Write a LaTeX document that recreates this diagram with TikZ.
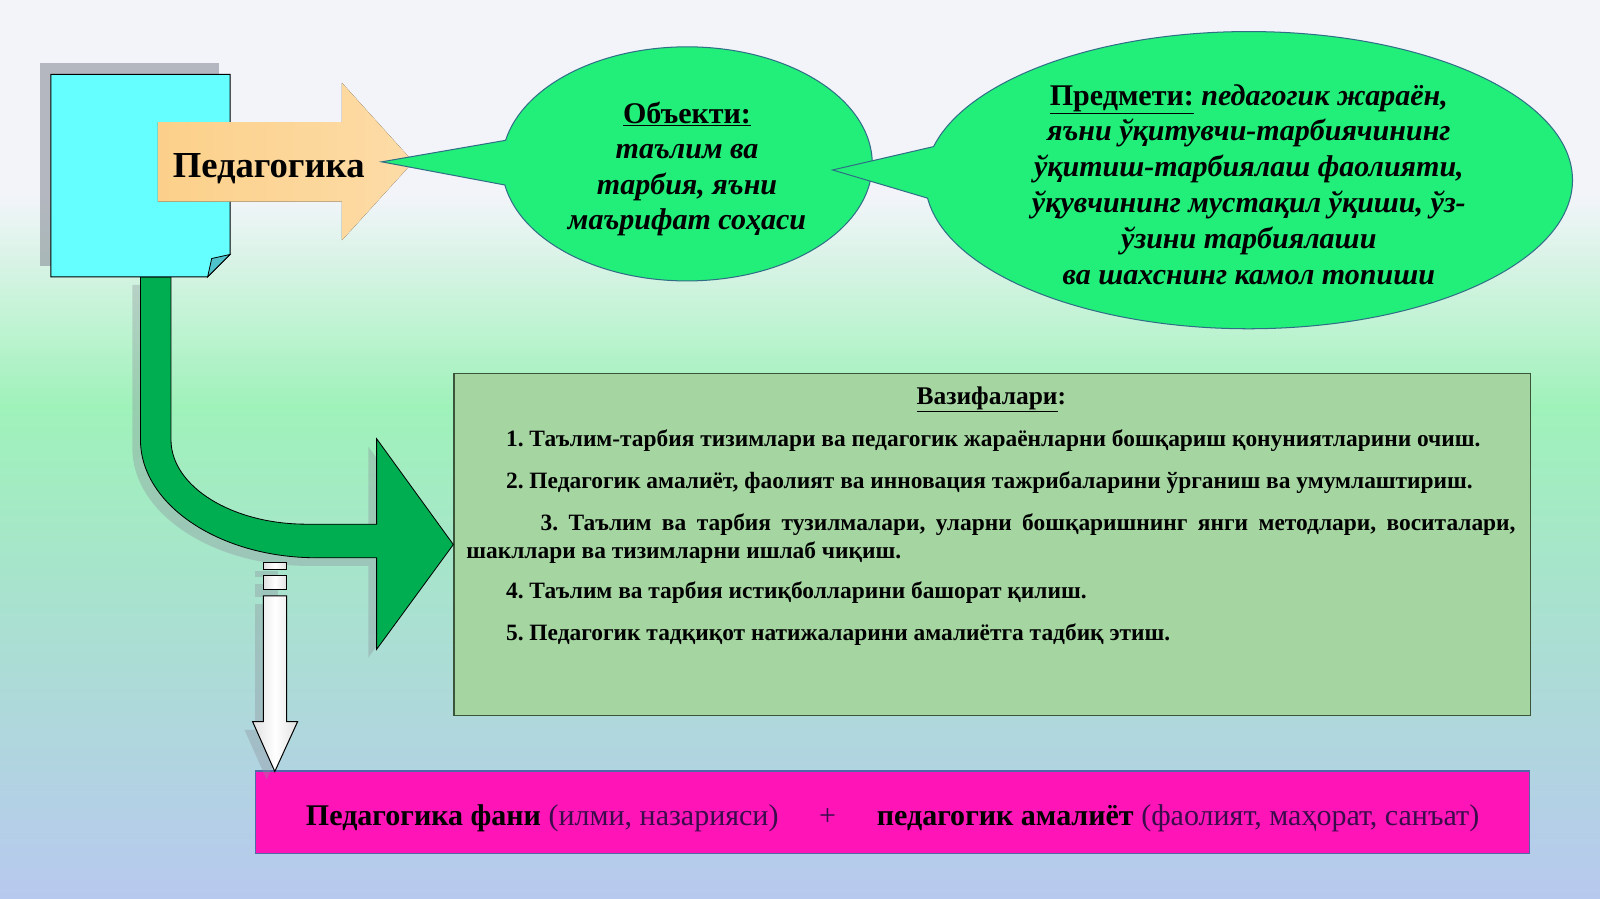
\documentclass[tikz,border=0pt]{standalone}
\usepackage{fontspec}
\setmainfont{Liberation Serif}
\usetikzlibrary{shapes.geometric}
\usetikzlibrary{shapes.callouts}
\usetikzlibrary{positioning}
\definecolor{skytop}{HTML}{F3F4FA}
\definecolor{skymint}{HTML}{9FF2BA}
\definecolor{skymid}{HTML}{A5D6D4}
\definecolor{skyblue}{HTML}{B8C9EF}
\definecolor{docblue}{HTML}{66FFFF}
\definecolor{foldblue}{HTML}{4FC3CC}
\definecolor{arroworange}{HTML}{FCD08A}
\definecolor{bubblegreen}{HTML}{22EE7A}
\definecolor{bubbleline}{HTML}{2F6E86}
\definecolor{arrowgreen}{HTML}{00AE52}
\definecolor{taskgreen}{HTML}{A5D6A2}
\definecolor{taskline}{HTML}{3B553B}
\definecolor{pinkbar}{HTML}{FF14B8}
\definecolor{pinkline}{HTML}{5068A8}
\definecolor{pinktext}{HTML}{3A0C4C}
\definecolor{shadowgray}{HTML}{8A8F99}
\tikzset{bubble/.style={ellipse callout,fill=bubblegreen,draw=bubbleline,line width=1pt,
           inner sep=0pt,callout pointer arc=22,align=center,
           font={\fontsize{29.5}{35}\selectfont\bfseries}},
         taskitem/.style={anchor=base west,inner sep=0pt,
           font={\fontsize{23}{28}\selectfont\bfseries\frenchspacing}},
         blockshadow/.style={fill=shadowgray,opacity=0.35,
           transform canvas={shift={(-8pt,-8pt)}}},
         greenarrow/.style={fill=arrowgreen,draw=black,line width=0.8pt},
         whitearrow/.style={left color=black!12,right color=black!12,middle color=white,
           draw=black,line width=1pt},
         }

\begin{document}
\begin{tikzpicture}[x=1pt,y=-1pt]
\useasboundingbox (0,0) rectangle (1572,883);
\fill[skytop] (0,0) rectangle (1572,190);
\shade[top color=skytop,bottom color=skymint] (0,190) rectangle (1572,400);
\shade[top color=skymint,middle color=skymid,bottom color=skyblue] (0,400) rectangle (1572,883);

\node[draw=taskline,fill=taskgreen,line width=1.2pt,minimum width=1058pt,
      minimum height=336pt,inner sep=0pt] (tasks) at (975,535) {};

% green arrow from the sheet to the tasks
\path[blockshadow] (138,272) -- (138,432) .. controls (138,496) and (216,548) .. (311,548)
  -- (370,548) -- (370,638) -- (tasks.west) -- (370,431) -- (370,515) -- (301,515)
  .. controls (228,515) and (168,478) .. (168,432) -- (168,272) -- cycle;
\path[greenarrow] (138,272) -- (138,432) .. controls (138,496) and (216,548) .. (311,548)
  -- (370,548) -- (370,638) -- (tasks.west) -- (370,431) -- (370,515) -- (301,515)
  .. controls (228,515) and (168,478) .. (168,432) -- (168,272) -- cycle;

\fill[shadowgray,opacity=0.6] (39,62) rectangle (215,261);
\draw[fill=docblue,line width=1pt] (50,73) -- (226,73) -- (226,250) -- (204,272) -- (50,272) -- cycle;
\draw[fill=foldblue,line width=0.8pt] (226,250) -- (208,254) -- (204,272) -- cycle;

\fill[left color=arroworange,right color=arroworange!75!white]
  (155,120) -- (336,120) -- (336,81.5) -- (406,159) -- (336,236) -- (336,198) -- (155,198) -- cycle;
\node[font={\fontsize{36}{40}\selectfont\bfseries},anchor=base] (pedlabel) at (264,174) {Педагогика};

\node[bubble,minimum width=364pt,minimum height=230pt,
      callout absolute pointer={(375,159)}] (objekt) at (675,161)
  {\rule{0pt}{31pt}\underline{Объекти:}\\ \itshape таълим ва\\ \itshape тарбия, яъни\\ \itshape маърифат соҳаси};
\node[bubble,minimum width=636pt,minimum height=292pt,callout pointer arc=20,
      font={\fontsize{29.5}{35.2}\selectfont\bfseries\itshape},
      callout absolute pointer={(818,167)}] (predmet) at (1227,177)
  {\rule{0pt}{29pt}\underline{\upshape Предмети:} педагогик жараён,\\
   яъни ўқитувчи-тарбиячининг\\
   ўқитиш-тарбиялаш фаолияти,\\
   ўқувчининг мустақил ўқиши, ўз-\\
   ўзини тарбиялаши\\
   ва шахснинг камол топиши};

\node[font={\fontsize{25}{28}\selectfont\bfseries},anchor=base] (taskhead) at (974,397) {\underline{Вазифалари}:};
\node[taskitem] (item1) at (497,439) {1. Таълим-тарбия тизимлари ва педагогик жараёнларни бошқариш қонуниятларини очиш.};
\node[taskitem] (item2) at (497,480) {2. Педагогик амалиёт, фаолият ва инновация тажрибаларини ўрганиш ва умумлаштириш.};
\node[taskitem] (item3a) at (531,521) {\makebox[958pt][s]{3. Таълим ва тарбия тузилмалари, уларни бошқаришнинг янги методлари, воситалари,}};
\node[taskitem] (item3b) at (458,548.5) {шакллари ва тизимларни ишлаб чиқиш.};
\node[taskitem] (item4) at (497,588) {4. Таълим ва тарбия истиқболларини башорат қилиш.};
\node[taskitem] (item5) at (497,629) {5. Педагогик тадқиқот натижаларини амалиётга тадбиқ этиш.};

\node[draw=pinkline,fill=pinkbar,line width=1pt,minimum width=1252pt,
      minimum height=81pt,inner sep=0pt] (pedfan) at (877,798) {};

% white arrow down to the bar
\begin{scope}[shift={(-8,8)},fill=shadowgray,opacity=0.35]
\fill (258.7,552.7) rectangle (281.6,559.3);
\fill (258.7,565.8) rectangle (281.6,578.9);
\fill (258.7,585.5) -- (258.7,709) -- (248.2,709) -- (270,758) -- (292.4,709) -- (281.6,709) -- (281.6,585.5) -- cycle;
\end{scope}
\draw[whitearrow] (258.7,552.7) rectangle (281.6,559.3);
\draw[whitearrow] (258.7,565.8) rectangle (281.6,578.9);
\draw[whitearrow] (258.7,585.5) -- (258.7,709) -- (248.2,709) -- (270,758) -- (292.4,709)
  -- (281.6,709) -- (281.6,585.5) -- cycle;

\node[font={\fontsize{29.5}{34}\selectfont},anchor=base,text=pinktext] (pedtext) at (877,811)
  {\textbf{\color{black}Педагогика фани} (илми, назарияси)\hspace{40pt}+\hspace{40pt}\textbf{\color{black}педагогик амалиёт} (фаолият, маҳорат, санъат)};
\end{tikzpicture}
\end{document}
